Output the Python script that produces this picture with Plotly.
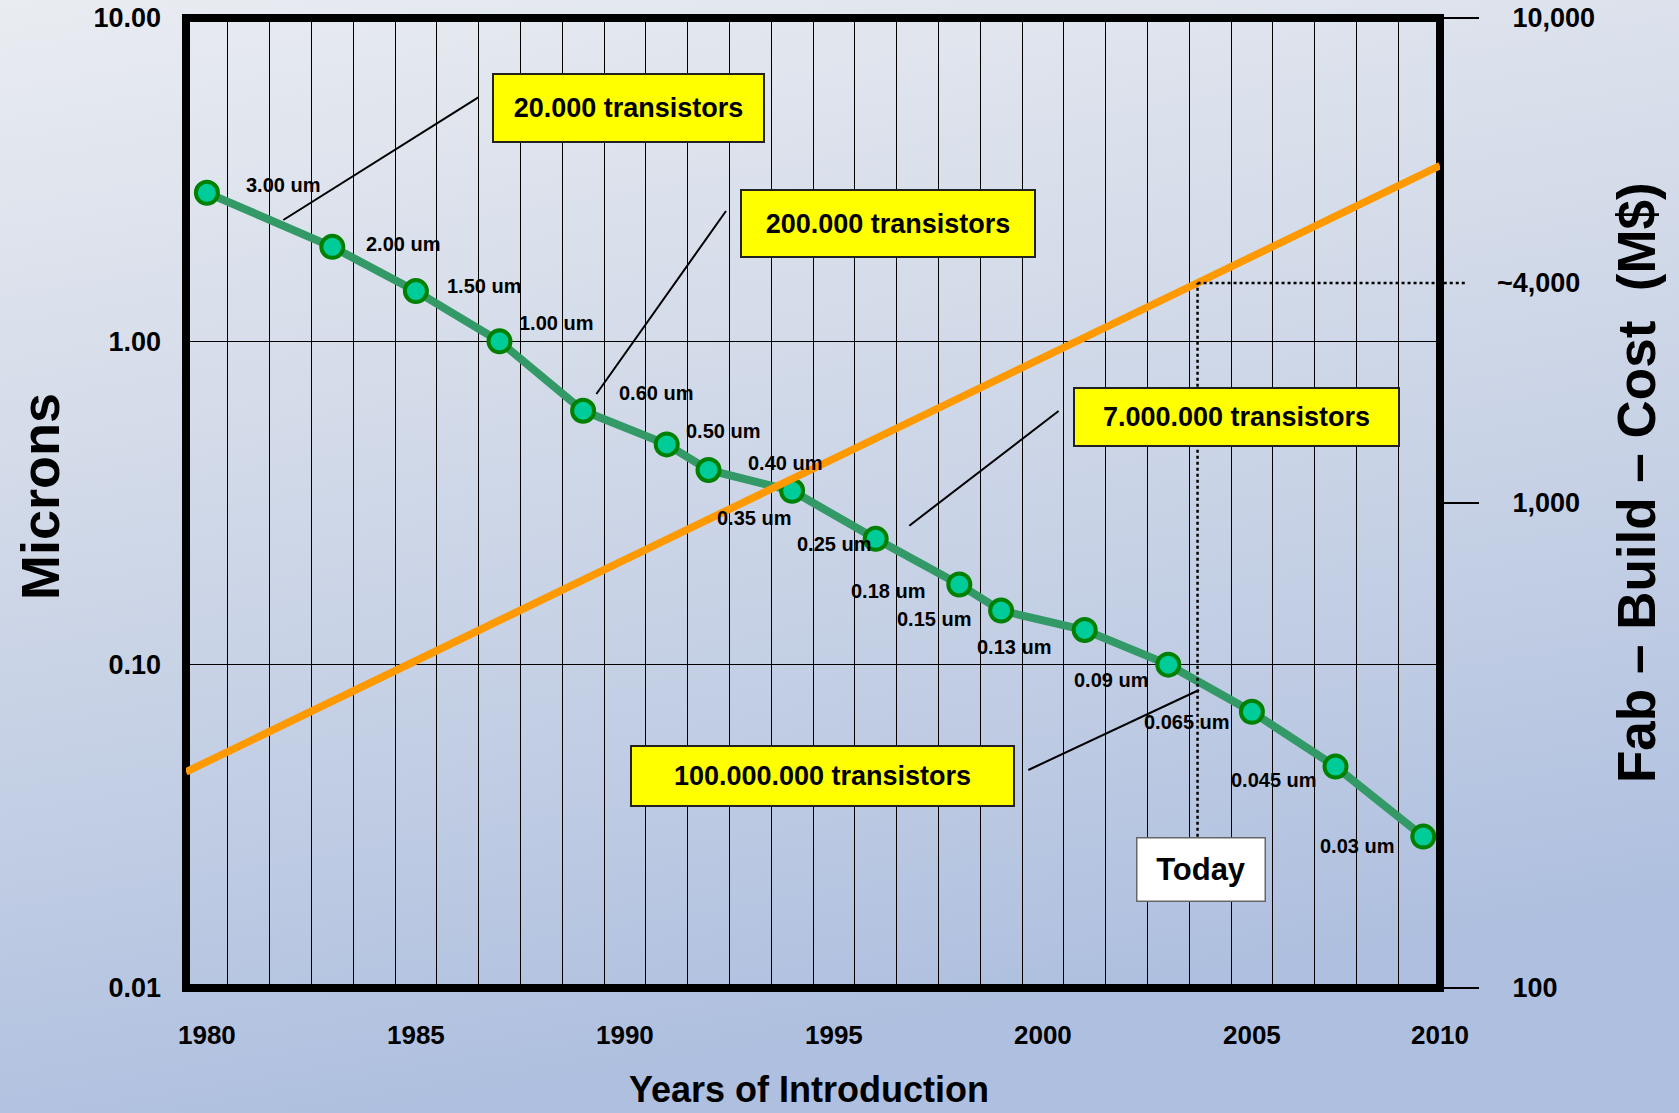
import base64
import numpy as np
import plotly.graph_objects as go

# ---------------- data ----------------
years = [1980, 1983, 1985, 1987, 1989, 1991, 1992, 1994, 1996, 1998, 1999, 2001, 2003, 2005, 2007, 2009.1]
microns = [2.88, 1.96, 1.43, 1.0, 0.61, 0.48, 0.40, 0.345, 0.245, 0.177, 0.147, 0.128, 0.10, 0.0715, 0.0484, 0.0294]
labels = ["3.00 um", "2.00 um", "1.50 um", "1.00 um", "0.60 um", "0.50 um", "0.40 um", "0.35 um",
          "0.25 um", "0.18 um", "0.15 um", "0.13 um", "0.09 um", "0.065 um", "0.045 um", "0.03 um"]

cost_years = [1979.5, 2009.5]
fab_cost = [279, 4960]          # M$

today_year = 2003.7
today_label = "~4,000"

x_tick_years = [1980, 1985, 1990, 1995, 2000, 2005, 2009.5]
x_tick_text = ["1980", "1985", "1990", "1995", "2000", "2005", "2010"]
y_tick_vals = [0.01, 0.1, 1, 10]
y_tick_text = ["0.01", "0.10", "1.00", "10.00"]
y2_tick_vals = [100, 1000, 10000]
y2_tick_text = ["100", "1,000", "10,000"]

callouts = ["20.000 transistors", "200.000 transistors", "7.000.000 transistors", "100.000.000 transistors"]

# ---------------- layout helpers ----------------
W, H = 1679, 1113
ML, MR, MT, MB = 186, 239, 18, 125
PW, PH = W - ML - MR, H - MT - MB
FONT = "Liberation Sans, Arial, sans-serif"


def P(x, y):
    return (x - ML) / PW, 1 - (y - MT) / PH


def bold(size):
    return dict(family=FONT, size=size, color="black", weight="bold")


cost_today = 10 ** np.interp(today_year, cost_years, np.log10(fab_cost))

fig = go.Figure()

# orange cost line (right axis)
fig.add_trace(go.Scatter(x=cost_years, y=fab_cost, yaxis="y2", mode="lines",
                         line=dict(color="#FF9900", width=7.5), hoverinfo="skip", showlegend=False))
# invisible trace for third axis
fig.add_trace(go.Scatter(x=[today_year], y=[cost_today], yaxis="y3", mode="markers",
                         marker=dict(opacity=0), hoverinfo="skip", showlegend=False))
# green feature size line
fig.add_trace(go.Scatter(x=years, y=microns, mode="lines+markers",
                         line=dict(color="#339966", width=8),
                         marker=dict(size=22, color="#00CC99", line=dict(color="#008000", width=4)),
                         showlegend=False))

annotations = []
# point labels
offsets = [("left", 37, -8), ("left", 32, -3), ("left", 29, -5), ("left", 17, -18),
           ("left", 34, -18), ("left", 17, -13), ("left", 37, -7), ("right", 1, 27),
           ("right", -3, 5), ("right", -32, 7), ("right", -28, 8), ("right", -32, 17),
           ("right", -18, 15), ("right", -20, 10), ("right", -17, 13), ("right", -27, 9)]
for xv, yv, t, (anc, dx, dy) in zip(years, microns, labels, offsets):
    annotations.append(dict(x=xv, y=np.log10(yv), xref="x", yref="y", text=t, showarrow=False,
                            xanchor=anc, yanchor="middle", xshift=dx, yshift=-dy, font=bold(20)))

# yellow callout boxes
boxes = [(628.4, 107.5, 271, 68), (888, 223, 294, 67), (1236, 416.7, 325, 58), (822, 776, 383, 60)]
for t, (cx, cy, bw, bh) in zip(callouts, boxes):
    px, py = P(cx, cy)
    annotations.append(dict(x=px, y=py, xref="paper", yref="paper", text=t, showarrow=False,
                            xanchor="center", yanchor="middle", width=bw - 2, height=bh - 2,
                            bgcolor="#FFFF00", bordercolor="#222222", borderwidth=2, borderpad=0,
                            font=bold(27)))

# Today box
today_box_top = 205  # M$ on right axis, where the dotted line meets the box
annotations.append(dict(x=today_year, y=np.log10(today_box_top), xref="x", yref="y2", text="Today",
                        showarrow=False, xanchor="center", yanchor="top", xshift=3, width=127, height=62,
                        bgcolor="white", bordercolor="#666666", borderwidth=1.5, borderpad=0,
                        font=bold(31)))

# axis titles
px, py = P(40, 497)
annotations.append(dict(x=px, y=py, xref="paper", yref="paper", text="Microns", textangle=-90,
                        showarrow=False, xanchor="center", yanchor="middle", font=bold(54)))
px, py = P(1636, 483)
annotations.append(dict(x=px, y=py, xref="paper", yref="paper",
                        text="Fab \u2013 Build \u2013 Cost \u00a0(M$)", textangle=-90,
                        showarrow=False, xanchor="center", yanchor="middle", font=bold(53)))
px, py = P(809, 1112)
annotations.append(dict(x=px, y=py, xref="paper", yref="paper", text="Years of Introduction",
                        showarrow=False, xanchor="center", yanchor="bottom", font=bold(36)))

shapes = []
# frame
shapes.append(dict(type="rect", xref="paper", yref="paper", x0=0, x1=1, y0=0, y1=1,
                   line=dict(color="black", width=8), layer="below"))
# leader lines
for (x0, y0, x1, y1) in [(478.3, 97.3, 283.3, 220), (726, 211, 596.4, 394),
                         (1058.6, 411, 909.3, 525.7), (1028.3, 770, 1199, 690)]:
    a, b = P(x0, y0)
    c, d = P(x1, y1)
    shapes.append(dict(type="line", xref="paper", yref="paper", x0=a, y0=b, x1=c, y1=d,
                       line=dict(color="black", width=2)))
# dotted "today" lines
shapes.append(dict(type="line", xref="x", yref="y2", x0=today_year, x1=cost_years[-1],
                   y0=cost_today, y1=cost_today, line=dict(color="black", width=2.5, dash="dot")))
shapes.append(dict(type="line", xref="paper", yref="y2", x0=1.003, x1=1.021,
                   y0=cost_today, y1=cost_today, line=dict(color="black", width=2.5, dash="dot")))
shapes.append(dict(type="line", xref="x", yref="y2", x0=today_year, x1=today_year,
                   y0=today_box_top, y1=cost_today, line=dict(color="black", width=2.5, dash="dot")))

# background gradient
svg = ('<svg xmlns="http://www.w3.org/2000/svg" width="1679" height="1113" preserveAspectRatio="none">'
       '<defs><linearGradient id="g" x1="0" y1="0" x2="0.25" y2="1">'
       '<stop offset="0" stop-color="#E9ECF1"/><stop offset="0.35" stop-color="#D6DDEA"/>'
       '<stop offset="0.7" stop-color="#C2CEE4"/><stop offset="1" stop-color="#AEBFDF"/>'
       '</linearGradient></defs><rect width="1679" height="1113" fill="url(#g)"/></svg>')
src = "data:image/svg+xml;base64," + base64.b64encode(svg.encode()).decode()
images = [dict(source=src, xref="paper", yref="paper", x=-ML / PW, y=1 + MT / PH,
               sizex=W / PW, sizey=H / PH, sizing="stretch", xanchor="left", yanchor="top",
               layer="below", opacity=1)]

fig.update_layout(
    width=W, height=H, margin=dict(l=ML, r=MR, t=MT, b=MB, autoexpand=False),
    paper_bgcolor="#D6DDEA", plot_bgcolor="rgba(0,0,0,0)",
    showlegend=False,
    xaxis=dict(range=[1979.5, 2009.5], tickvals=x_tick_years, ticktext=x_tick_text,
               showgrid=False, zeroline=False, showline=False, ticks="",
               tickfont=bold(26), ticklabelstandoff=29,
               minor=dict(tick0=1979.5, dtick=1, showgrid=True, gridcolor="black", gridwidth=1, ticks="")),
    yaxis=dict(type="log", range=[-2, 1], tickvals=y_tick_vals, ticktext=y_tick_text,
               showgrid=True, gridcolor="black", gridwidth=1, zeroline=False, showline=False,
               ticks="", tickfont=bold(27), ticklabelstandoff=24),
    yaxis2=dict(type="log", range=[2, 4], overlaying="y", side="right", anchor="x",
                tickvals=y2_tick_vals, ticktext=y2_tick_text, showgrid=False, zeroline=False,
                showline=False, ticks="outside", ticklen=38, tickwidth=2, tickcolor="black",
                tickfont=bold(27), ticklabelstandoff=28),
    yaxis3=dict(type="log", range=[2, 4], overlaying="y", side="right", anchor="x",
                tickvals=[cost_today], ticktext=[today_label], showgrid=False, zeroline=False,
                showline=False, ticks="", tickfont=bold(27), ticklabelstandoff=56),
    annotations=annotations, shapes=shapes, images=images,
)

fig.write_html("out.html", config={"displayModeBar": False},
               post_script="document.body.style.margin='0';document.body.style.overflow='hidden';")
